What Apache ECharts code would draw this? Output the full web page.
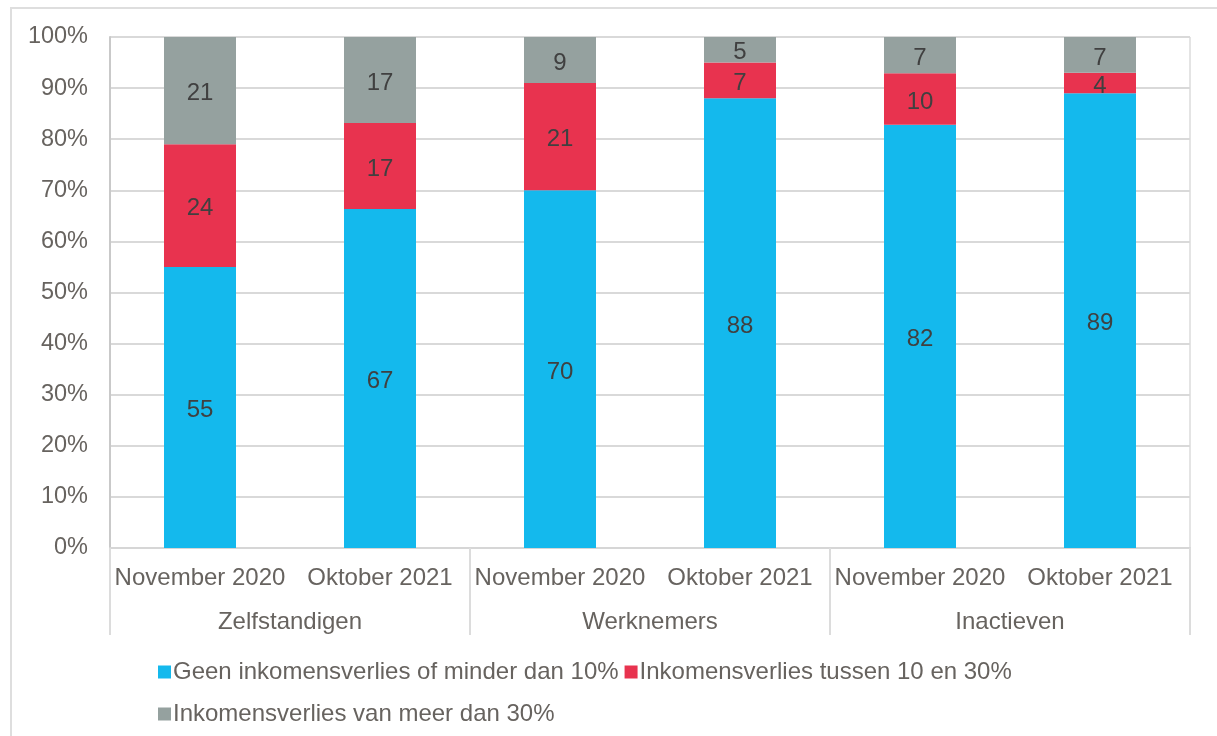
<!DOCTYPE html>
<html>
<head>
<meta charset="utf-8">
<script src="https://cdn.jsdelivr.net/npm/echarts@6/dist/echarts.min.js"></script>
<style>
    html, body { margin: 0; padding: 0; background: #fff; overflow: hidden; }
    #frame { position: absolute; left: 10px; top: 7px; width: 1230px; height: 760px; border: 2px solid #dedede; box-sizing: border-box; }
    #container { position: absolute; left: 0; top: 0; width: 1217px; height: 736px; }
</style>
</head>
<body>
<div id="frame"></div>
<div id="container"></div>
<script>
    // categories (two levels)
    var periods = ['November 2020', 'Oktober 2021', 'November 2020', 'Oktober 2021', 'November 2020', 'Oktober 2021'];
    var groups = ['Zelfstandigen', 'Werknemers', 'Inactieven'];
    var yTicks = ['0%', '10%', '20%', '30%', '40%', '50%', '60%', '70%', '80%', '90%', '100%'];

    // series values (rounded, as labelled)
    var seriesNames = [
        'Geen inkomensverlies of minder dan 10%',
        'Inkomensverlies tussen 10 en 30%',
        'Inkomensverlies van meer dan 30%'
    ];
    var geenVerlies = [55, 67, 70, 88, 82, 89];
    var tussen10en30 = [24, 17, 21, 7, 10, 4];
    var meerDan30 = [21, 17, 9, 5, 7, 7];
    var colors = ['#14b9ed', '#e8334f', '#95a19f'];

    var raw = [geenVerlies, tussen10en30, meerDan30];
    // 100% stacked: share of each bar total
    var totals = periods.map(function (p, i) {
        return raw.reduce(function (s, arr) { return s + arr[i]; }, 0);
    });

    var textColor = '#67635f';
    var font = 'Liberation Sans, Arial, sans-serif';

    var chart = echarts.init(document.getElementById('container'));
    var option = {
        animation: false,
        color: colors,
        textStyle: { fontFamily: font },
        grid: {
            left: 110, right: 27, top: 37, bottom: 188,
            show: true, borderColor: '#c9c9c9', borderWidth: 1
        },
        legend: [
            {
                data: seriesNames.slice(0, 2),
                left: 153, top: 655,
                icon: 'rect', itemWidth: 13, itemHeight: 13, itemGap: 6,
                textStyle: { color: textColor, fontSize: 24, fontFamily: font, padding: [0, 0, 0, -3] }
            },
            {
                data: seriesNames.slice(2),
                left: 153, top: 697,
                icon: 'rect', itemWidth: 13, itemHeight: 13,
                textStyle: { color: textColor, fontSize: 24, fontFamily: font, padding: [0, 0, 0, -3] }
            }
        ],
        xAxis: [
            {
                type: 'category',
                data: periods,
                axisTick: { show: false },
                axisLine: { lineStyle: { color: '#d6d6d6', width: 2 } },
                axisLabel: { color: textColor, fontSize: 24, margin: 18, interval: 0, fontFamily: font }
            },
            {
                type: 'category',
                data: groups,
                position: 'bottom',
                axisLine: { show: false },
                axisTick: { show: true, length: 87, interval: 0, lineStyle: { color: '#dcdcdc', width: 2 } },
                axisLabel: { color: textColor, fontSize: 24, margin: 62, interval: 0, fontFamily: font }
            }
        ],
        yAxis: {
            type: 'value',
            min: 0, max: 100, interval: 10,
            axisLine: { show: true, lineStyle: { color: '#c9c9c9', width: 2 } },
            axisTick: { show: false },
            splitLine: { lineStyle: { color: '#d9d9d9', width: 2 } },
            axisLabel: {
                color: textColor, fontSize: 23.5, margin: 22, fontFamily: font,
                padding: [4, 0, 0, 0],
                formatter: function (v) { return yTicks[Math.round(v / 10)]; }
            }
        },
        series: raw.map(function (arr, k) {
            return {
                name: seriesNames[k],
                type: 'bar',
                stack: 'total',
                barWidth: '40%',
                xAxisIndex: 0,
                data: arr.map(function (v, i) { return { value: v / totals[i] * 100, raw: v }; }),
                label: {
                    show: true,
                    position: 'inside',
                    offset: [0, 3],
                    color: '#404040',
                    fontSize: 24,
                    fontFamily: font,
                    formatter: function (p) { return p.data.raw; }
                }
            };
        })
    };
    chart.setOption(option, true);
</script>
</body>
</html>
